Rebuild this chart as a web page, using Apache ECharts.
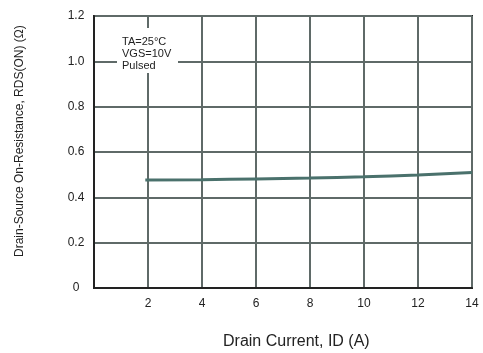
<!DOCTYPE html>
<html>
<head>
<meta charset="utf-8">
<script src="https://cdn.jsdelivr.net/npm/echarts@6/dist/echarts.min.js"></script>
<style>
  html, body { margin: 0; padding: 0; background: #fff; }
  #RdsChart { width: 483px; height: 353px; }
</style>
</head>
<body>
<div id="RdsChart"></div>
<script>
// drain current (A) vs on-resistance (ohm)
const currentA = [1.9, 4, 6, 8, 10, 12, 14];
const rdsOhm = [0.476, 0.478, 0.481, 0.485, 0.491, 0.499, 0.51];
const noteLines = ["TA=25°C", "VGS=10V", "Pulsed"];

const chartDom = document.getElementById("RdsChart");
const myChart = echarts.init(chartDom);
const font = "Liberation Sans, Arial, sans-serif";
const gridColor = "#5f6a68";

const seriesData = currentA.map((x, i) => [x, rdsOhm[i]]);

const option = {
  animation: false,
  grid: {
    left: 94,
    right: 11,
    top: 16,
    bottom: 65,
    show: true,
    borderColor: "#222",
    borderWidth: 2,
    backgroundColor: "#fff",
  },
  xAxis: {
    type: "value",
    min: 0,
    max: 14,
    interval: 2,
    axisLine: { show: true, lineStyle: { color: "#222", width: 2 } },
    axisTick: { show: false },
    splitLine: { show: true, lineStyle: { color: gridColor, width: 2 } },
    axisLabel: {
      margin: 10,
      fontSize: 12,
      color: "#222",
      fontFamily: font,
      formatter: (v) => (v === 0 ? "" : String(v)),
    },
  },
  yAxis: {
    type: "value",
    min: 0,
    max: 1.2,
    interval: 0.2,
    axisLine: { show: true, lineStyle: { color: "#222", width: 2 } },
    axisTick: { show: false },
    splitLine: { show: true, lineStyle: { color: gridColor, width: 2 } },
    axisLabel: {
      margin: 18,
      align: "center",
      fontSize: 12,
      color: "#222",
      fontFamily: font,
      formatter: (v) => (v === 0 ? "0" : v.toFixed(1)),
    },
  },
  graphic: [
    {
      type: "text",
      left: 223,
      top: 334,
      style: {
        text: "Drain Current, ID (A)",
        fontSize: 16,
        fontFamily: font,
        fill: "#222",
      },
    },
    {
      type: "text",
      x: 14,
      y: 257,
      rotation: Math.PI / 2,
      originX: 0,
      originY: 0,
      style: {
        text: "Drain-Source On-Resistance, RDS(ON) (Ω)",
        fontSize: 12,
        fontFamily: font,
        fill: "#222",
      },
      z: 10,
    },
    {
      type: "rect",
      shape: { x: 117, y: 28, width: 61, height: 45 },
      style: { fill: "#fff" },
      z: 10,
    },
    {
      type: "text",
      x: 122,
      y: 36,
      style: {
        text: noteLines.join("\n"),
        fontSize: 11,
        lineHeight: 12,
        fontFamily: font,
        fill: "#222",
      },
      z: 11,
    },
  ],
  series: [
    {
      type: "line",
      data: seriesData,
      smooth: true,
      showSymbol: false,
      lineStyle: { color: "#4a716c", width: 3 },
      z: 5,
    },
  ],
};
option && myChart.setOption(option);
window.addEventListener("resize", myChart.resize);
</script>
</body>
</html>
